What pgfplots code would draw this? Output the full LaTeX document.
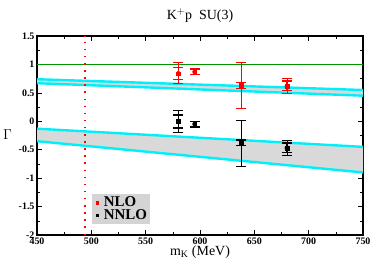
\documentclass[border=0pt]{standalone}
\usepackage{fontspec}
\setmainfont{Liberation Serif}
\usepackage{pgfplots}
\usepgfplotslibrary{fillbetween}
\pgfplotsset{compat=1.18}
\definecolor{bandcyan}{RGB}{0,240,250}
\definecolor{bandgray}{RGB}{217,217,217}
\definecolor{lgray}{RGB}{212,212,212}
\definecolor{mygreen}{RGB}{0,150,0}
\begin{document}
\begin{tikzpicture}
\begin{axis}[
  scale only axis, width=326bp, height=199bp,
  xmin=450, xmax=750, ymin=-2, ymax=1.5,
  xtick={450,500,...,750}, ytick={-2,-1.5,...,1.5},
  minor x tick num=1, minor y tick num=1,
  tick align=inside, tick pos=both,
  axis line style={line width=1.2pt},
  every tick/.style={black, line width=0.5pt},
  major tick length=5pt, minor tick length=3pt,
  tick label style={font=\bfseries\fontsize{10}{12}\selectfont},
  /pgf/number format/assume math mode=true,
  yticklabel style={/pgf/number format/fixed, xshift=1pt},
  xticklabel style={yshift=1pt},
  title={K$^{+}$p\ \ SU(3)}, title style={font=\fontsize{14}{16}\selectfont, yshift=4bp},
  xlabel={m$_{\mathrm{K}}$ (MeV)}, xlabel style={font=\fontsize{14}{16}\selectfont, yshift=5bp},
  ylabel={$\Gamma$}, ylabel style={font=\fontsize{14}{16}\selectfont, rotate=-90, yshift=1bp},
  legend style={at={(0.169,0.055)}, anchor=south west, fill=lgray, draw=none,
    font=\bfseries\fontsize{15}{15}\selectfont, inner sep=1pt, row sep=-3pt},
  legend cell align=left,
  legend image code/.code={\path[draw=none,fill=none] (0cm,0cm) rectangle (0.3cm,0.01cm); \path[#1, draw=none, mark=square*, mark size=1.4bp, only marks] plot coordinates {(0.14cm,0cm)};},
  clip=true,
]
% bands
\addplot[name path=ua, draw=none, forget plot] coordinates {(450,0.74) (750,0.55)};
\addplot[name path=ub, draw=none, forget plot] coordinates {(450,0.67) (750,0.45)};
\addplot[bandgray, forget plot] fill between[of=ua and ub];
\addplot[name path=la, draw=none, forget plot] coordinates {(450,-0.13) (750,-0.45)};
\addplot[name path=lb, draw=none, forget plot] coordinates {(450,-0.35) (750,-0.90)};
\addplot[bandgray, forget plot] fill between[of=la and lb];
\addplot[bandcyan, line width=2.4bp, forget plot] coordinates {(450,0.74) (750,0.55)};
\addplot[bandcyan, line width=2.4bp, forget plot] coordinates {(450,0.67) (750,0.45)};
\addplot[bandcyan, line width=2.4bp, forget plot] coordinates {(450,-0.13) (750,-0.45)};
\addplot[bandcyan, line width=2.4bp, forget plot] coordinates {(450,-0.35) (750,-0.90)};
% green line
\addplot[color=mygreen, line width=1pt, forget plot] coordinates {(450,1) (750,1)};
% red dotted vertical
\addplot[color=red, line width=1.5bp, dash pattern=on 1.5bp off 5.6bp, forget plot] coordinates {(494,-2) (494,1.5)};
% NLO outer errors
\addplot[color=red, only marks, mark=none, forget plot,
  error bars/.cd, y dir=both, y explicit, error bar style={line width=0.8pt, color=red},
  error mark options={rotate=90, mark size=5bp, line width=0.8pt, color=red}]
  coordinates {
  (580,0.84) -= (0,0.18) += (0,0.19)
  (638,0.63) -= (0,0.41) += (0,0.41)
  (680,0.62) -= (0,0.13) += (0,0.14)
  };
% NLO inner errors
\addplot[color=red, only marks, mark=none, forget plot,
  error bars/.cd, y dir=both, y explicit, error bar style={line width=1.3pt, color=red},
  error mark options={rotate=90, mark size=5bp, line width=1.3pt, color=red}]
  coordinates {
  (580,0.84) -= (0,0.10) += (0,0.10)
  (595,0.87) -= (0,0.05) += (0,0.05)
  (638,0.63) -= (0,0.05) += (0,0.05)
  (680,0.62) -= (0,0.08) += (0,0.09)
  };
% NNLO outer errors
\addplot[black, only marks, mark=none, forget plot,
  error bars/.cd, y dir=both, y explicit, error bar style={line width=0.8pt},
  error mark options={rotate=90, mark size=5bp, line width=0.8pt}]
  coordinates {
  (580,0.0) -= (0,0.20) += (0,0.19)
  (638,-0.38) -= (0,0.41) += (0,0.40)
  (680,-0.47) -= (0,0.13) += (0,0.14)
  };
% NNLO inner errors
\addplot[black, only marks, mark=none, forget plot,
  error bars/.cd, y dir=both, y explicit, error bar style={line width=1.3pt},
  error mark options={rotate=90, mark size=5bp, line width=1.3pt}]
  coordinates {
  (580,0.0) -= (0,0.12) += (0,0.11)
  (595,-0.05) -= (0,0.05) += (0,0.05)
  (638,-0.38) -= (0,0.05) += (0,0.05)
  (680,-0.47) -= (0,0.08) += (0,0.09)
  };
% markers with legend
\addplot[color=red, only marks, mark=square*, mark size=1.8bp] coordinates {(580,0.84) (595,0.87) (638,0.63) (680,0.62)};
\addlegendentry{NLO}
\addplot[black, only marks, mark=square*, mark size=1.8bp] coordinates {(580,0.0) (595,-0.05) (638,-0.38) (680,-0.47)};
\addlegendentry{NNLO}
\end{axis}
\pgfresetboundingbox
\path ([shift={(-37bp,-32bp)}]current axis.south west) rectangle ([shift={(11bp,36bp)}]current axis.north east);
\end{tikzpicture}
\end{document}
